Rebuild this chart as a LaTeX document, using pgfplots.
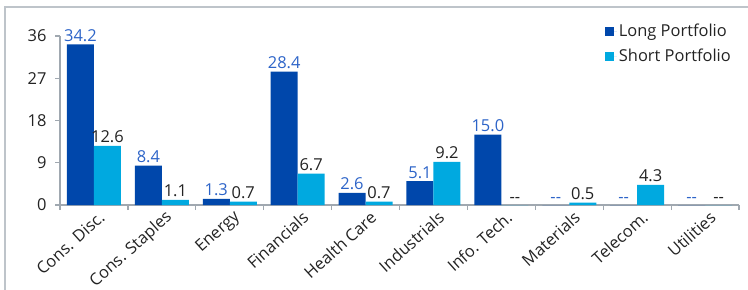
\documentclass[border=0pt]{standalone}
\usepackage{fontspec}
\setmainfont{Open Sans}
\usepackage{pgfplots}
\usepackage{pgfplotstable}
\pgfplotsset{compat=1.18}
\definecolor{longc}{RGB}{0,71,171}
\definecolor{shortc}{RGB}{0,169,224}
\definecolor{lblblue}{RGB}{45,100,200}
\definecolor{axgray}{RGB}{160,168,176}
\definecolor{framegray}{RGB}{190,196,202}
\definecolor{txt}{RGB}{35,35,35}
\newcommand{\dd}{-{}-}
\newcommand{\fs}{\fontsize{16.5}{19}\selectfont}
\pgfplotstableread{
x y lbl
0 34.2 34.2
1 8.4 8.4
2 1.3 1.3
3 28.4 28.4
4 2.6 2.6
5 5.1 5.1
6 15.0 15.0
7 0 \dd
8 0 \dd
9 0 \dd
}\longdata
\pgfplotstableread{
x y lbl
0 12.6 12.6
1 1.1 1.1
2 0.7 0.7
3 6.7 6.7
4 0.7 0.7
5 9.2 9.2
6 0 \dd
7 0.5 0.5
8 4.3 4.3
9 0 \dd
}\shortdata
\begin{document}
\begin{tikzpicture}
\useasboundingbox (0,0) rectangle (748bp,290bp);
\draw[framegray, line width=1.2bp] (5bp,-5bp) -- (5bp,283bp) -- (760bp,283bp);
\begin{axis}[
  at={(60bp,85bp)}, anchor=south west,
  scale only axis, width=679bp, height=169bp,
  xmin=-0.5, xmax=9.5, ymin=0, ymax=36,
  enlargelimits=false,
  ybar=0pt, bar width=27bp,
  axis lines*=left,
  axis line style={axgray, line width=1.2bp},
  ytick={0,9,18,27,36},
  xtick={0,...,9},
  xticklabels={Cons. Disc., Cons. Staples, Energy, Financials, Health Care, Industrials, Info. Tech., Materials, Telecom., Utilities},
  minor xtick={-0.5,0.5,...,9.5},
  major x tick style={draw=none},
  minor x tick style={axgray, line width=1.2bp},
  y tick style={axgray, line width=1.2bp},
  major tick length=5bp, minor tick length=5bp,
  tick align=outside,
  /pgf/number format/assume math mode=true,
  tick label style={font=\fs, text=txt},
  xticklabel style={rotate=42, anchor=east, xshift=6bp, yshift=-9bp},
  yticklabel style={xshift=-5bp},
  nodes near coords, point meta=explicit symbolic,
  nodes near coords style={font=\fs, inner sep=2.5bp},
  legend style={draw=none, fill=none, at={(1,1)}, anchor=north east, yshift=16bp, xshift=-3bp,
    font=\fs, row sep=7bp, text=txt},
  legend cell align=left,
  legend image code/.code={\fill[#1] (0bp,-4.5bp) rectangle (9bp,4.5bp); \path (0bp,0bp) -- (12bp,0bp);},
]
\addplot[fill=longc, draw=none, nodes near coords style={text=lblblue}] table[x=x, y=y, meta=lbl] {\longdata};
\addplot[fill=shortc, draw=none, nodes near coords style={text=txt}] table[x=x, y=y, meta=lbl] {\shortdata};
\legend{Long Portfolio, Short Portfolio}
\end{axis}
\end{tikzpicture}
\end{document}
